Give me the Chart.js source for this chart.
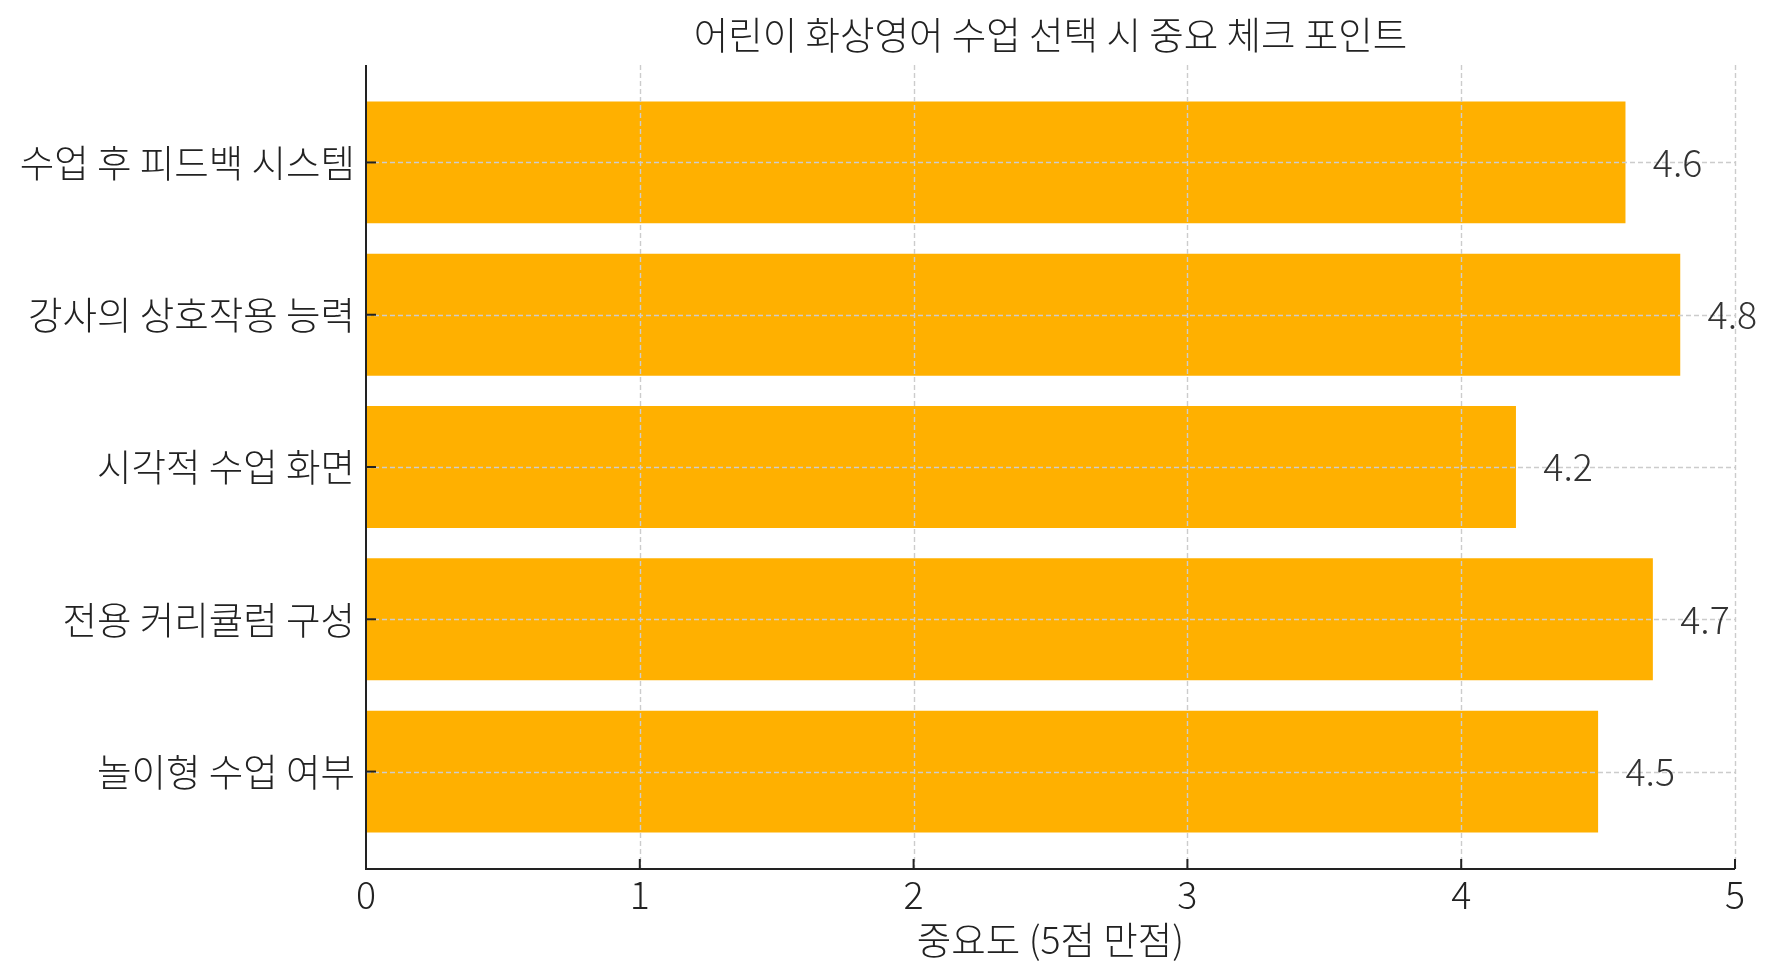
<!DOCTYPE html>
<html>
<head>
<meta charset="utf-8">
<script src="https://cdn.jsdelivr.net/npm/chart.js@4.4.1/dist/chart.umd.min.js"></script>
<style>
html,body{margin:0;padding:0;background:#fff;}
#wrap{width:1780px;height:980px;position:relative;}
</style>
</head>
<body>
<div id="wrap"><canvas id="c" width="1780" height="980"></canvas></div>
<script>
const categories = ['수업 후 피드백 시스템', '강사의 상호작용 능력', '시각적 수업 화면', '전용 커리큘럼 구성', '놀이형 수업 여부'];
const scores = [4.6, 4.8, 4.2, 4.7, 4.5];
const xTicks = [0, 1, 2, 3, 4, 5];
const titleText = '어린이 화상영어 수업 선택 시 중요 체크 포인트';
const xTitle = '중요도 (5점 만점)';

const FONT = "'Noto Sans CJK KR', 'Noto Sans', sans-serif";
const SIZE = 37.5;
const WEIGHT = 300;
const INK = '#222222';

const overlay = {
  id: 'overlay',
  afterDatasetsDraw(chart) {
    const ctx = chart.ctx;
    const xs = chart.scales.x, ys = chart.scales.y;
    const a = chart.chartArea;
    ctx.save();
    // dashed grid on top of bars
    ctx.strokeStyle = '#cccccc';
    ctx.lineWidth = 1.4;
    ctx.setLineDash([5, 3]);
    xTicks.forEach(t => {
      if (t === 0) return;
      const px = Math.round(xs.getPixelForValue(t)) + 0.5;
      ctx.beginPath(); ctx.moveTo(px, a.top); ctx.lineTo(px, a.bottom); ctx.stroke();
    });
    categories.forEach((c, i) => {
      const py = Math.round(ys.getPixelForValue(i)) + 0.5;
      ctx.beginPath(); ctx.moveTo(a.left, py); ctx.lineTo(a.right, py); ctx.stroke();
    });
    ctx.setLineDash([]);
    // spines
    ctx.strokeStyle = INK;
    ctx.lineWidth = 2;
    ctx.beginPath();
    ctx.moveTo(a.left, a.top); ctx.lineTo(a.left, a.bottom); ctx.lineTo(a.right, a.bottom);
    ctx.stroke();
    // inward ticks
    xTicks.forEach(t => {
      const px = xs.getPixelForValue(t);
      ctx.beginPath(); ctx.moveTo(px, a.bottom); ctx.lineTo(px, a.bottom - 10); ctx.stroke();
    });
    categories.forEach((c, i) => {
      const py = ys.getPixelForValue(i);
      ctx.beginPath(); ctx.moveTo(a.left, py); ctx.lineTo(a.left + 10, py); ctx.stroke();
    });
    // value labels
    ctx.fillStyle = '#333333';
    ctx.font = WEIGHT + ' ' + SIZE + 'px ' + FONT;
    ctx.textAlign = 'left';
    ctx.textBaseline = 'middle';
    scores.forEach((v, i) => {
      ctx.fillText(v.toFixed(1), xs.getPixelForValue(v + 0.1), ys.getPixelForValue(i));
    });
    // title centred over the plot area
    ctx.fillStyle = INK;
    ctx.textAlign = 'center';
    ctx.fillText(titleText, (a.left + a.right) / 2, 35);
    ctx.restore();
  }
};

new Chart(document.getElementById('c'), {
  type: 'bar',
  data: {
    datasets: [{
      data: scores.map((v, i) => ({x: v, y: i})),
      backgroundColor: '#FFB000',
      borderWidth: 0,
      barPercentage: 0.8,
      categoryPercentage: 1.0
    }]
  },
  options: {
    indexAxis: 'y',
    responsive: false,
    animation: false,
    layout: {padding: {left: 0, right: 45, top: 65, bottom: 0}},
    plugins: {
      legend: {display: false},
      tooltip: {enabled: false},
      title: {display: false}
    },
    scales: {
      x: {
        type: 'linear',
        min: 0, max: 5,
        afterBuildTicks: s => { s.ticks = xTicks.map(v => ({value: v})); },
        afterFit: s => { s.height = 111; },
        grid: {display: false, drawTicks: false},
        border: {display: false},
        ticks: {color: INK, font: {family: FONT, size: SIZE, weight: WEIGHT, lineHeight: 1.2}, padding: 3.5, maxRotation: 0},
        title: {display: true, text: xTitle, color: INK,
                font: {family: FONT, size: SIZE, weight: WEIGHT, lineHeight: 1.2}, padding: {top: 0, bottom: 17.5}}
      },
      y: {
        type: 'linear',
        offset: false,
        reverse: true,
        min: -0.64, max: 4.64,
        afterBuildTicks: s => { s.ticks = categories.map((c, i) => ({value: i})); },
        afterFit: s => { s.width = 366; },
        grid: {display: false, drawTicks: false, offset: false},
        border: {display: false},
        ticks: {color: INK, font: {family: FONT, size: SIZE, weight: WEIGHT, lineHeight: 1.2}, padding: 11,
                callback: v => categories[v]}
      }
    }
  },
  plugins: [overlay]
});
</script>
</body>
</html>
